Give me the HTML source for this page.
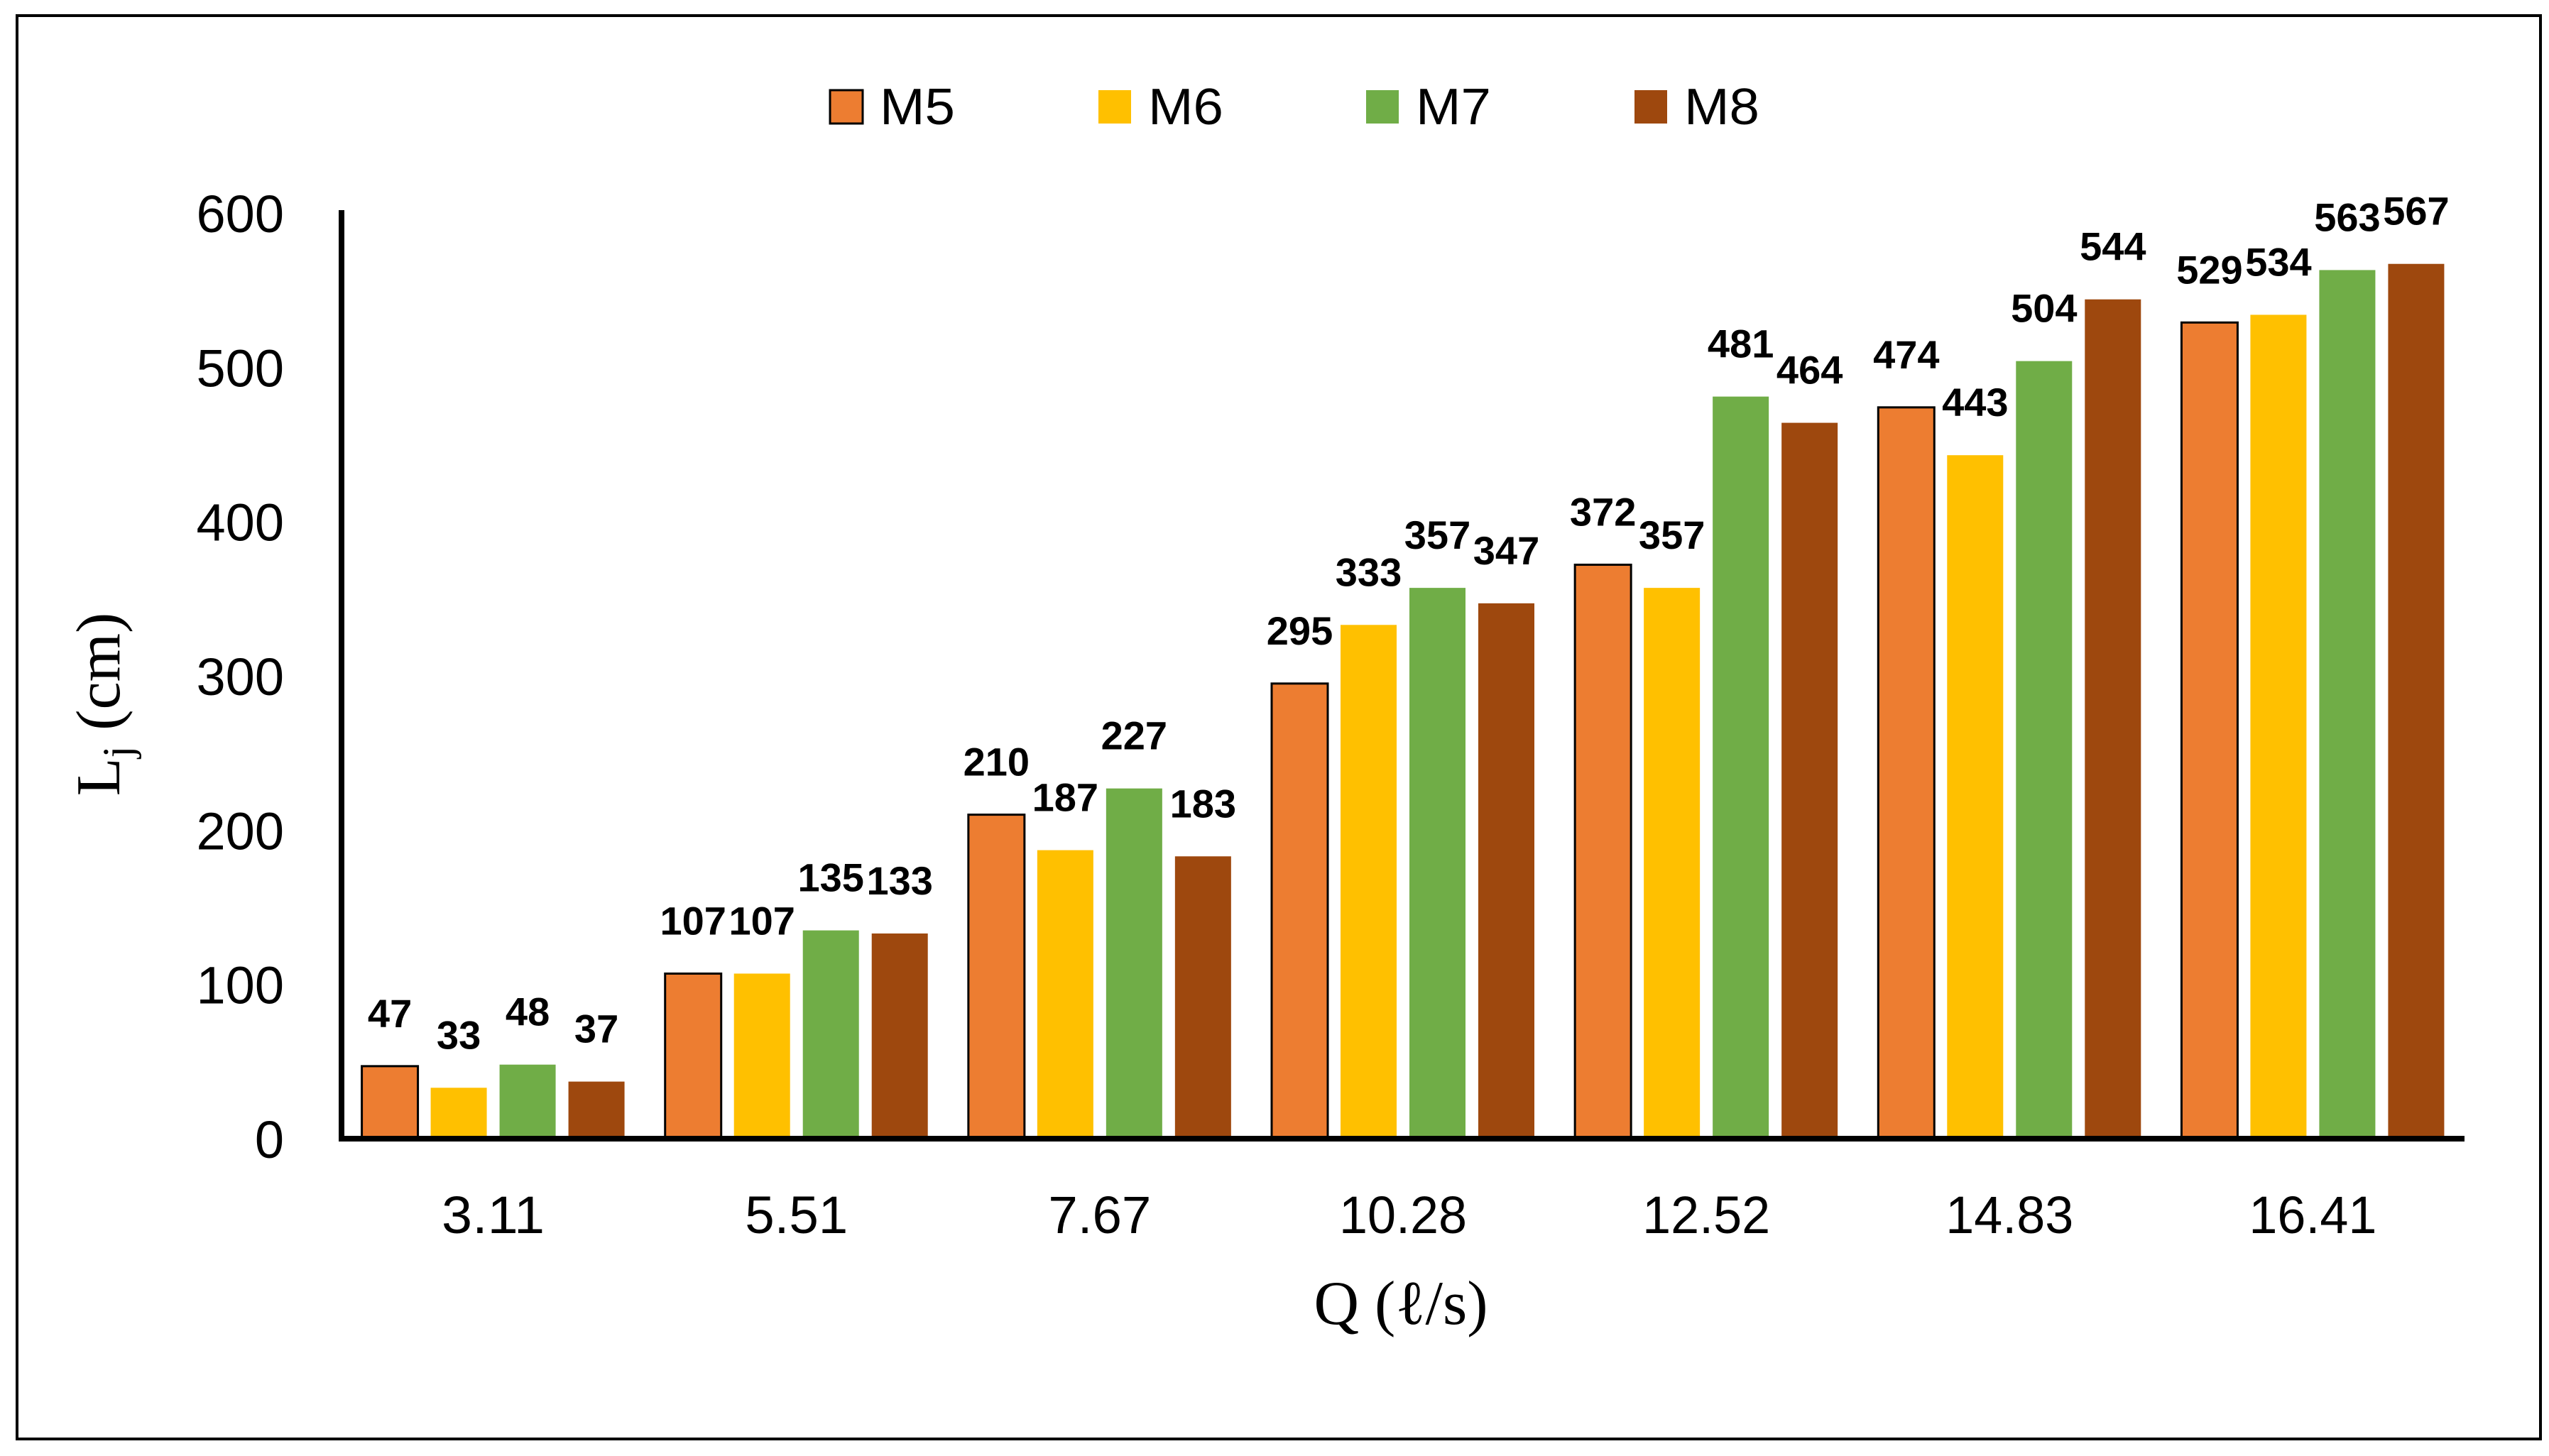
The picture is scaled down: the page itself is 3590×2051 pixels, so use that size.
<!DOCTYPE html>
<html><head><meta charset="utf-8"><style>
html,body{margin:0;padding:0;background:#fff;}
svg{display:block;}
</style></head><body>
<svg id="chart" width="3590" height="2051" viewBox="0 0 3590 2051" xmlns="http://www.w3.org/2000/svg">
<rect x="24" y="22" width="3554" height="2005" fill="#fff" stroke="#000" stroke-width="4"/>
<g id="legend"></g>
<g id="grid"></g>
<text transform="translate(168,992) rotate(-90)" text-anchor="middle" font-family="Liberation Serif, serif" font-size="88">L<tspan font-size="60" dy="18">j</tspan><tspan dy="-18"> (cm)</tspan></text>
<text x="1973" y="1865" text-anchor="middle" font-family="Liberation Serif, serif" font-size="88">Q (ℓ/s)</text>
</svg>
<script>
const categories = ["3.11","5.51","7.67","10.28","12.52","14.83","16.41"];
const seriesNames = ["M5","M6","M7","M8"];
const m5 = [47,107,210,295,372,474,529];
const m6 = [33,107,187,333,357,443,534];
const m7 = [48,135,227,357,481,504,563];
const m8 = [37,133,183,347,464,544,567];
const yTicks = [0,100,200,300,400,500,600];

const series = [m5,m6,m7,m8];
const colors = ["#ED7D31","#FFC000","#70AD47","#9E480E"];
const NS = "http://www.w3.org/2000/svg";
const X0 = 481, X1 = 3471, Y0 = 1604, YTOP = 300, YMAX = 600;
const band = (X1 - X0) / categories.length;
const barW = 79, pitch = 97;
function y(v){ return Y0 - (v / YMAX) * (Y0 - YTOP); }
function xBar(ci, si){ return X0 + band*ci + band/2 - (barW + 3*pitch)/2 + si*pitch; }
function mk(tag, attrs, parent){ const e = document.createElementNS(NS, tag); for (const k in attrs) e.setAttribute(k, attrs[k]); parent.appendChild(e); return e; }

const g = document.getElementById('grid');
const lg = document.getElementById('legend');

// bars
series.forEach((vals, si) => {
  vals.forEach((v, ci) => {
    const r = mk('rect', {x: xBar(ci, si), y: y(v), width: barW, height: Y0 - y(v), fill: colors[si]}, g);
    if (si === 0) { r.setAttribute('stroke', '#000'); r.setAttribute('stroke-width', '3'); }
    
    
    const t = mk('text', {x: xBar(ci, si) + barW/2, y: y(v) - 55, 'text-anchor': 'middle', 'font-family': 'Liberation Sans, sans-serif', 'font-weight': 'bold', 'font-size': '56'}, g);
    t.textContent = v;
    
    
  });
});

// axes
const ya = mk('line', {x1: X0, y1: YTOP - 4, x2: X0, y2: Y0 + 4, stroke: '#000', 'stroke-width': '8'}, g);


const xa = mk('line', {x1: X0 - 4, y1: Y0, x2: X1, y2: Y0, stroke: '#000', 'stroke-width': '8'}, g);



yTicks.forEach(v => {
  const t = mk('text', {x: 400, y: y(v) + 27, 'text-anchor': 'end', 'font-family': 'Liberation Sans, sans-serif', 'font-size': '74'}, g);
  t.textContent = v;
  
  
});
categories.forEach((c, ci) => {
  const t = mk('text', {x: X0 + band*ci + band/2, y: 1737, 'text-anchor': 'middle', 'font-family': 'Liberation Sans, sans-serif', 'font-size': '74', textLength: 180, lengthAdjust: 'spacingAndGlyphs'}, g);
  if (c.length === 4) t.setAttribute('textLength', 145);
  t.textContent = c;
  
  
});

// legend
const lx = [1169, 1547, 1924, 2302];
seriesNames.forEach((n, si) => {
  const s = mk('rect', {x: lx[si], y: 127, width: 46, height: 47, fill: colors[si]}, lg);
  if (si === 0) { s.setAttribute('stroke', '#000'); s.setAttribute('stroke-width', '3'); }
  
  
  const t = mk('text', {x: lx[si] + 70, y: 175, 'font-family': 'Liberation Sans, sans-serif', 'font-size': '72', textLength: 106, lengthAdjust: 'spacingAndGlyphs'}, lg);
  t.textContent = n;
  
  
});
</script>
</body></html>
